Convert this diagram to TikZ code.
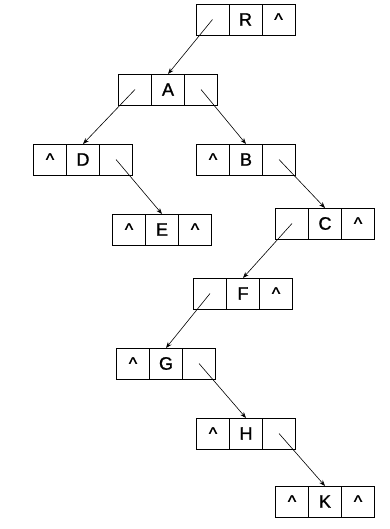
\documentclass[tikz,border=0pt]{standalone}
\usepackage{fontspec}
\setmainfont{Liberation Sans}
\newfontfamily\cellfont{Liberation Sans}[FakeBold=1.2]
\usetikzlibrary{arrows.meta, positioning}

\begin{document}
\begin{tikzpicture}[
  x=1pt, y=-1pt,
  cell/.style={rectangle, draw=black, line width=0.7pt, minimum width=33pt,
               minimum height=31pt, inner sep=0pt, outer sep=0pt,
               font=\cellfont\fontsize{18}{20}\selectfont},
  arrow/.style={-{Stealth[length=6pt, width=4.5pt]}, line width=0.6pt},
]
  \useasboundingbox (0,0) rectangle (389,529);

  % R
  \node[cell] (R) at (245.5,19.5) {R};
  \node[cell, left=0pt of R] (Rl) {};
  \node[cell, right=0pt of R] (Rr) {\textasciicircum};
  % A
  \node[cell] (A) at (168,89.5) {A};
  \node[cell, left=0pt of A] (Al) {};
  \node[cell, right=0pt of A] (Ar) {};
  % D
  \node[cell] (D) at (83,159.5) {D};
  \node[cell, left=0pt of D] (Dl) {\textasciicircum};
  \node[cell, right=0pt of D] (Dr) {};
  % B
  \node[cell] (B) at (246,159.5) {B};
  \node[cell, left=0pt of B] (Bl) {\textasciicircum};
  \node[cell, right=0pt of B] (Br) {};
  % E
  \node[cell] (E) at (162,229.5) {E};
  \node[cell, left=0pt of E] (El) {\textasciicircum};
  \node[cell, right=0pt of E] (Er) {\textasciicircum};
  % C
  \node[cell] (C) at (325,223.5) {C};
  \node[cell, left=0pt of C] (Cl) {};
  \node[cell, right=0pt of C] (Cr) {\textasciicircum};
  % F
  \node[cell] (F) at (243,293.5) {F};
  \node[cell, left=0pt of F] (Fl) {};
  \node[cell, right=0pt of F] (Fr) {\textasciicircum};
  % G
  \node[cell] (G) at (166,363.5) {G};
  \node[cell, left=0pt of G] (Gl) {\textasciicircum};
  \node[cell, right=0pt of G] (Gr) {};
  % H
  \node[cell] (H) at (246,433.5) {H};
  \node[cell, left=0pt of H] (Hl) {\textasciicircum};
  \node[cell, right=0pt of H] (Hr) {};
  % K
  \node[cell] (K) at (325,501.5) {K};
  \node[cell, left=0pt of K] (Kl) {\textasciicircum};
  \node[cell, right=0pt of K] (Kr) {\textasciicircum};

  % Pointers
  \draw[arrow] (Rl.center) -- (A.north);
  \draw[arrow] (Al.center) -- (D.north);
  \draw[arrow] (Ar.center) -- (B.north);
  \draw[arrow] (Dr.center) -- (E.north);
  \draw[arrow] (Br.center) -- (C.north);
  \draw[arrow] (Cl.center) -- (F.north);
  \draw[arrow] (Fl.center) -- (G.north);
  \draw[arrow] (Gr.center) -- (H.north);
  \draw[arrow] (Hr.center) -- (K.north);
\end{tikzpicture}
\end{document}
